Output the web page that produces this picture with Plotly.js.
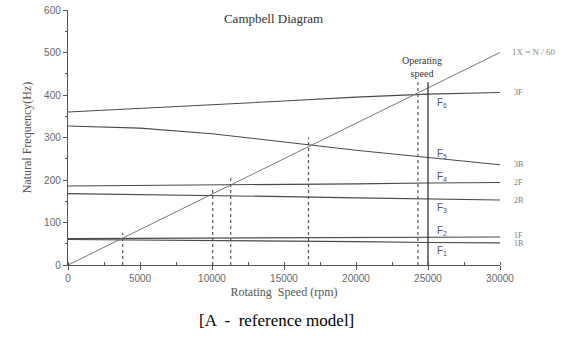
<!DOCTYPE html>
<html>
<head>
<meta charset="utf-8">
<script src="https://cdn.plot.ly/plotly-3.0.1.min.js"></script>
<style>
html,body{margin:0;padding:0;background:#fff;}
#chart{width:570px;height:341px;}
</style>
</head>
<body>
<div id="chart"></div>
<script>
// Rotor speed samples (rpm)
const speed = [0, 5000, 10000, 15000, 20000, 25000, 30000];
// Natural frequency modes (Hz)
const mode3F = [360, 368, 377, 386, 395, 402, 406];
const mode3B = [327, 322, 309, 290, 270, 253, 236];
const mode2F = [186, 187, 189, 190, 191, 193, 194];
const mode2B = [168, 166, 163, 161, 158, 155, 153];
const mode1F = [62, 62.5, 63, 64, 65, 65.5, 66];
const mode1B = [60, 59, 57, 56, 55, 53, 52];
// Excitation line 1X = N/60
const excSpeed = [0, 30000];
const excFreq = [0, 500];
// Critical speed markers (dotted)
const critSpeed = [3800, 10050, 11300, 16700, 24300];
const critTop = [76, 182, 206, 300, 430];
// Operating speed marker
const opSpeed = 25000;
const opTop = 430;
// Mode labels at right
const modeNames = ['3F', '3B', '2F', '2B', '1F', '1B'];
const modeLabelY = [406, 236, 194, 152, 70, 51];
// F labels near operating speed
const fNames = ['6', '5', '4', '3', '2', '1'];
const fLabelY = [382, 262, 206, 135, 81, 34];
const fLabelX = 25500;

const lineColor = '#4a4a4a';
const traces = [];
const modes = [mode3F, mode3B, mode2F, mode2B, mode1F, mode1B];
modes.forEach(m => traces.push({
  x: speed, y: m, type: 'scatter', mode: 'lines',
  line: {color: lineColor, width: 1.1}, hoverinfo: 'skip'
}));
traces.push({x: excSpeed, y: excFreq, type: 'scatter', mode: 'lines',
  line: {color: '#777', width: 1}, hoverinfo: 'skip'});
critSpeed.forEach((s, i) => traces.push({
  x: [s, s], y: [0, critTop[i]], type: 'scatter', mode: 'lines',
  line: {color: '#555', width: 1.2, dash: 'dot'}, hoverinfo: 'skip'
}));
traces.push({x: [opSpeed, opSpeed], y: [0, opTop], type: 'scatter', mode: 'lines',
  line: {color: '#333', width: 1.3}, hoverinfo: 'skip'});

const serif = 'Liberation Serif, DejaVu Serif, serif';
const sans = 'Liberation Sans, Arial, sans-serif';
const annotations = [];
modeNames.forEach((n, i) => annotations.push({
  x: 30000, y: modeLabelY[i], xref: 'x', yref: 'y', text: n, showarrow: false,
  xanchor: 'left', xshift: 12, font: {family: serif, size: 8, color: '#777'}
}));
annotations.push({x: 30000, y: 502, xref: 'x', yref: 'y', text: '1X = N / 60', showarrow: false,
  xanchor: 'left', xshift: 10, font: {family: serif, size: 9, color: '#888'}});
fNames.forEach((n, i) => annotations.push({
  x: fLabelX, y: fLabelY[i], xref: 'x', yref: 'y', text: 'F<sub>' + n + '</sub>', showarrow: false,
  xanchor: 'left', font: {family: sans, size: 10, color: '#555'}
}));
annotations.push({x: 24600, y: 465, xref: 'x', yref: 'y', text: 'Operating<br>speed', showarrow: false,
  font: {family: serif, size: 10, color: '#333'}});
annotations.push({x: 0.5, y: 0, xref: 'paper', yref: 'paper', yshift: -67, text: '[A  -  reference model]',
  showarrow: false, font: {family: serif, size: 17, color: '#000'}, xshift: -8});

const layout = {
  width: 570, height: 341,
  margin: {l: 68, r: 70, t: 10, b: 76},
  paper_bgcolor: '#fff', plot_bgcolor: '#fff',
  showlegend: false,
  title: {text: 'Campbell Diagram', x: 0.48, xanchor: 'center', y: 0.945, yanchor: 'middle',
    font: {family: serif, size: 13, color: '#333'}},
  xaxis: {
    range: [0, 30000], dtick: 5000, tickformat: 'd', showgrid: false, zeroline: false,
    showline: true, linecolor: '#555', linewidth: 1.2,
    ticks: 'outside', ticklen: 4, tickcolor: '#555',
    minor: {dtick: 2500, ticks: 'inside', ticklen: 3, tickcolor: '#555'},
    tickfont: {family: sans, size: 10, color: '#666'},
    title: {text: 'Rotating  Speed (rpm)', standoff: 4, font: {family: serif, size: 12, color: '#555'}}
  },
  yaxis: {
    range: [0, 600], dtick: 100, showgrid: false, zeroline: false,
    showline: true, linecolor: '#555', linewidth: 1.2,
    ticks: 'outside', ticklen: 4, tickcolor: '#555',
    minor: {dtick: 50, ticks: 'outside', ticklen: 2, tickcolor: '#555'},
    tickfont: {family: sans, size: 10, color: '#666'},
    title: {text: 'Natural Frequency(Hz)', standoff: 10, font: {family: serif, size: 12, color: '#555'}}
  },
  annotations: annotations
};
Plotly.newPlot('chart', traces, layout, {staticPlot: true, displayModeBar: false});
</script>
</body>
</html>
